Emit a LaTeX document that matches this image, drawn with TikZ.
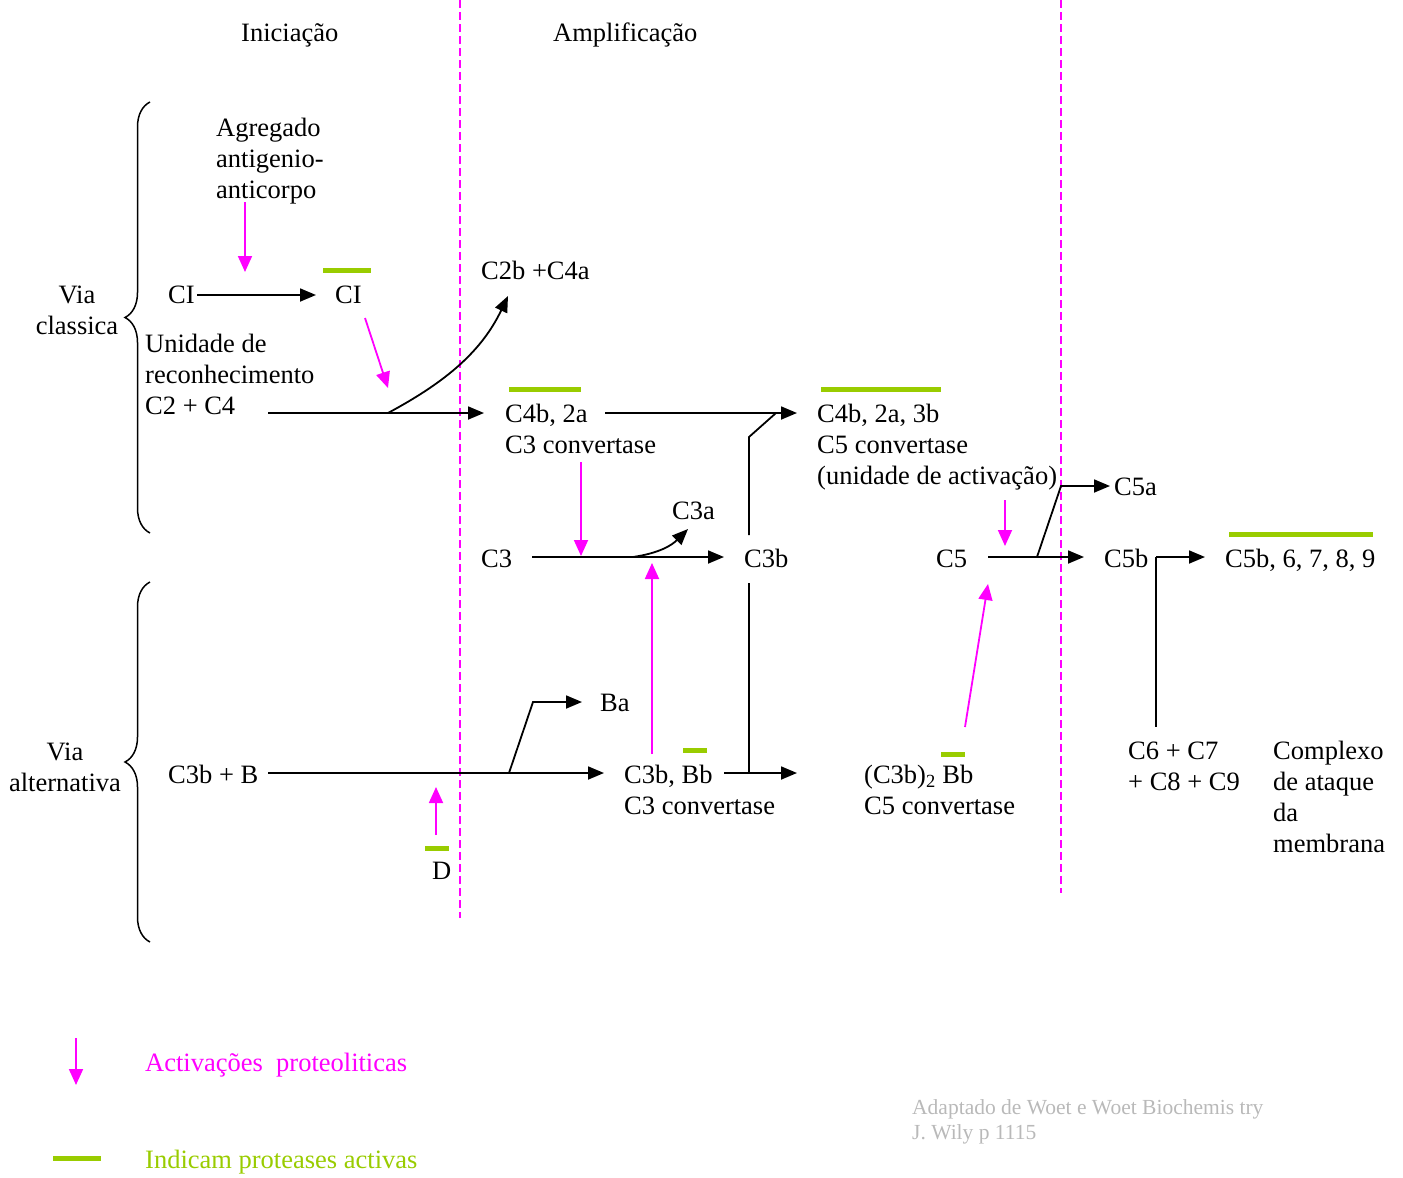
\documentclass[tikz,border=0pt]{standalone}
\usepackage{fontspec}
\setmainfont{Liberation Serif}
\usetikzlibrary{arrows.meta,decorations.pathreplacing}

\definecolor{activ}{RGB}{255,0,255}
\definecolor{protease}{RGB}{153,204,0}
\definecolor{source}{RGB}{185,185,185}

\begin{document}
\begin{tikzpicture}[x=1pt,y=-1pt,
  txt/.style={anchor=north west, inner sep=0pt, align=left,
    font=\fontsize{26.5}{31}\selectfont},
  ctxt/.style={txt, anchor=north, align=center},
  flow/.style={draw=black, line width=1.8pt, -{Triangle[length=16pt,width=13pt]}},
  plain/.style={draw=black, line width=1.8pt},
  act/.style={draw=activ, line width=1.8pt, -{Triangle[length=16pt,width=14pt]}},
  protbar/.style={draw=protease, line width=5pt},
  stage/.style={draw=activ, line width=1.6pt, dash pattern=on 8pt off 4pt},
  pathway/.style={draw=black, line width=1.5pt, decorate,
    decoration={brace, amplitude=25pt}}
]
\useasboundingbox (0,0) rectangle (1403,1178);

% stage boundaries
\coordinate (s1t) at (460,0);   \coordinate (s1b) at (460,918);
\coordinate (s2t) at (1061,0);  \coordinate (s2b) at (1061,893);
\draw[stage] (s1t) -- (s1b);
\draw[stage] (s2t) -- (s2b);

% headings
\node[txt] (ini) at (241,20) {\strut Iniciação};
\node[txt] (amp) at (553,20) {\strut Amplificação};

% pathway braces
\coordinate (bc1) at (150,533); \coordinate (bc2) at (150,102);
\coordinate (ba1) at (150,942); \coordinate (ba2) at (150,582);
\draw[pathway] (bc1) -- (bc2);
\draw[pathway] (ba1) -- (ba2);
\node[ctxt] (viaC) at (77,282) {\strut Via\\classica};
\node[ctxt] (viaA) at (65,739) {\strut Via\\alternativa};

% classical pathway
\node[txt] (agr)  at (216,115) {\strut Agregado\\antigenio-\\anticorpo};
\node[txt] (ci1)  at (168,282) {\strut CI};
\node[txt] (ci2)  at (335,282) {\strut CI};
\node[txt] (uni)  at (145,331) {\strut Unidade de\\reconhecimento\\C2 + C4};
\node[txt] (c2b)  at (481,258) {\strut C2b +C4a};
\node[txt] (c42a) at (505,401) {\strut C4b, 2a\\C3 convertase};
\node[txt] (c5cv) at (817,401) {\strut C4b, 2a, 3b\\C5 convertase\\(unidade de activação)};
\node[txt] (c3)   at (481,546) {\strut C3};
\node[txt] (c3a)  at (672,498) {\strut C3a};
\node[txt] (c3b)  at (744,546) {\strut C3b};
\node[txt] (c5)   at (936,546) {\strut C5};
\node[txt] (c5a)  at (1114,474) {\strut C5a};
\node[txt] (c5b)  at (1104,546) {\strut C5b};
\node[txt] (mac)  at (1225,546) {\strut C5b, 6, 7, 8, 9};
\node[txt] (c69)  at (1128,738) {\strut C6 + C7\\+ C8 + C9};
\node[txt] (cplx) at (1273,738) {\strut Complexo\\de ataque\\da\\membrana};

% alternative pathway
\node[txt] (c3bB)  at (168,762) {\strut C3b + B};
\node[txt] (ba)    at (600,690) {\strut Ba};
\node[txt] (fd)    at (432,858) {\strut D};
\node[txt] (c3bBb) at (624,762) {\strut C3b, Bb\\C3 convertase};
\node[txt] (c3b2)  at (864,762) {\strut (C3b)\textsubscript{2} Bb\\C5 convertase};

% active protease markers
\draw[protbar] (323,270) -- (371,270);
\draw[protbar] (509,389) -- (581,389);
\draw[protbar] (821,389) -- (941,389);
\draw[protbar] (1229,534) -- (1373,534);
\draw[protbar] (683,750) -- (707,750);
\draw[protbar] (941,754) -- (965,754);
\draw[protbar] (425,848) -- (449,848);

% junction points
\coordinate (ci1o)  at (197,295);  \coordinate (ci2i)  at (316,295);
\coordinate (unio)  at (268,413);  \coordinate (c42ai) at (484,413);
\coordinate (cut1)  at (388,413);  \coordinate (c2bi)  at (508,296);
\coordinate (c42ao) at (605,413);  \coordinate (c5cvi) at (797,413);
\coordinate (c3bt)  at (749,535);  \coordinate (c3bk)  at (749,437);
\coordinate (c3bj)  at (776,413);
\coordinate (c3o)   at (532,557);  \coordinate (c3bi)  at (724,557);
\coordinate (cut3)  at (633,557);  \coordinate (c3ai)  at (688,529);
\coordinate (c3bd)  at (749,583);  \coordinate (c3bj2) at (749,773);
\coordinate (c5o)   at (988,557);  \coordinate (c5bi)  at (1084,557);
\coordinate (cut5)  at (1037,557); \coordinate (c5ak)  at (1061,486);
\coordinate (c5ai)  at (1110,486);
\coordinate (c5bo)  at (1156,557); \coordinate (maci)  at (1205,557);
\coordinate (c69t)  at (1156,727);
\coordinate (c3bBo) at (268,773);  \coordinate (c3bBbi) at (604,773);
\coordinate (cutB)  at (509,773);  \coordinate (bak)   at (533,702);
\coordinate (bai)   at (582,702);
\coordinate (c3bBbo) at (724,773); \coordinate (c3b2i) at (797,773);

% reaction flow
\draw[flow] (ci1o) -- (ci2i);
\draw[flow] (unio) -- (c42ai);
\draw[flow] (cut1) .. controls (440,385) and (480,355) .. (c2bi);
\draw[flow] (c42ao) -- (c5cvi);
\draw[plain] (c3bt) -- (c3bk) -- (c3bj);
\draw[flow] (c3o) -- (c3bi);
\draw[flow] (cut3) .. controls (660,553) and (672,545) .. (c3ai);
\draw[plain] (c3bd) -- (c3bj2);
\draw[flow] (c5o) -- (c5bi);
\draw[flow] (cut5) -- (c5ak) -- (c5ai);
\draw[flow] (c5bo) -- (maci);
\draw[plain] (c5bo) -- (c69t);
\draw[flow] (c3bBo) -- (c3bBbi);
\draw[flow] (cutB) -- (bak) -- (bai);
\draw[flow] (c3bBbo) -- (c3b2i);

% proteolytic activations
\coordinate (p1s) at (245,202);  \coordinate (p1e) at (245,272);
\coordinate (p2s) at (365,318);  \coordinate (p2e) at (388,388);
\coordinate (p3s) at (581,462);  \coordinate (p3e) at (581,556);
\coordinate (p4s) at (652,754);  \coordinate (p4e) at (652,563);
\coordinate (p5s) at (1005,500); \coordinate (p5e) at (1005,546);
\coordinate (p6s) at (965,727);  \coordinate (p6e) at (988,584);
\coordinate (p7s) at (436,835);  \coordinate (p7e) at (436,787);
\draw[act] (p1s) -- (p1e);
\draw[act] (p2s) -- (p2e);
\draw[act] (p3s) -- (p3e);
\draw[act] (p4s) -- (p4e);
\draw[act] (p5s) -- (p5e);
\draw[act] (p6s) -- (p6e);
\draw[act] (p7s) -- (p7e);

% legend
\coordinate (l1s) at (76,1038); \coordinate (l1e) at (76,1085);
\draw[act] (l1s) -- (l1e);
\node[txt, text=activ] (leg1) at (145,1050) {\strut Activações\ \ proteoliticas};
\coordinate (l2s) at (53,1158); \coordinate (l2e) at (101,1158);
\draw[protbar] (l2s) -- (l2e);
\node[txt, text=protease] (leg2) at (145,1147) {\strut Indicam proteases activas};

% source
\node[txt, text=source, font=\fontsize{21.5}{25}\selectfont] (src) at (912,1097)
  {\strut Adaptado de Woet e Woet Biochemis try\\J. Wily p 1115};
\end{tikzpicture}
\end{document}
